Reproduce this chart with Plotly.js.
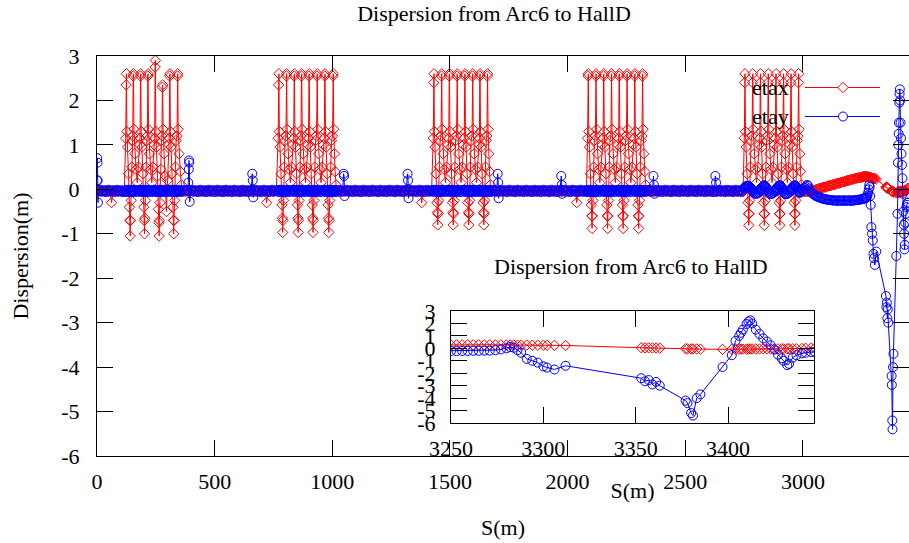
<!DOCTYPE html>
<html>
<head>
<meta charset="utf-8">
<script src="https://cdn.plot.ly/plotly-3.0.1.min.js"></script>
<style>html,body{margin:0;padding:0;background:#fff;}#chart{width:909px;height:543px;}</style>
</head>
<body>
<div id="chart"></div>
<script>
// ---- data ----
const sStart    = [0,1,2,3,4,8,14,20,26,32,38,44,50,56,62,68,74,80,86,92,98,104,110,116];
const etaxStart = [0.0,-0.02,0.0,-0.02,-0.04,-0.04,-0.04,-0.04,-0.04,-0.04,-0.04,-0.04,-0.04,-0.04,-0.3,-0.04,-0.04,-0.04,-0.04,-0.04,-0.04,-0.04,-0.04,-0.04];
const etayStart = [0.2,0.7,0.6,0.2,-0.3,-0.03,-0.01,-0.05,-0.04,-0.02,-0.06,-0.03,-0.01,-0.05,-0.04,-0.02,-0.06,-0.03,-0.01,-0.05,-0.04,-0.02,-0.06,-0.03];

const sArc1 = [122,124,125,127,130,134,138,140,141,142,145,148,151,
  152,154,155,157,161,166,171,176,181,
  183,185,186,188,191,195,199,201,202,203,206,209,212,
  214,216,217,219,223,228,233,238,243,
  245,247,248,250,253,257,261,263,264,265,268,271,274,
  276,278,279,281,285,290,295,300,305,
  307,309,310,312,315,319,323,325,326,327,330,333,336,
  340,342,343,345,349,354,359,364];
const etaxArc1 = [1.15,2.35,2.6,1.3,0.95,0.35,-0.4,-0.7,-1.05,-0.7,-0.25,0.5,1.1,
  1.2,2.55,2.6,1.35,0.8,0.45,0.15,0.5,1.0,
  1.15,2.55,2.6,1.3,0.95,0.35,-0.4,-0.7,-1.0,-0.65,-0.25,0.5,1.1,
  1.2,2.55,2.6,1.35,0.8,0.45,0.15,0.5,1.0,
  1.15,2.75,2.9,1.3,0.95,0.3,-0.45,-0.75,-1.05,-0.7,-0.3,0.45,1.1,
  1.2,2.3,2.35,1.35,0.8,0.3,-0.5,0.2,1.0,
  1.15,2.55,2.6,1.3,0.95,0.35,-0.4,-0.7,-1.0,-0.7,-0.25,0.5,1.1,
  1.2,2.55,2.6,1.35,0.8,0.4,0.1,-0.04];
const etayArc1 = [-0.03,-0.01,-0.05,-0.06,-0.02,-0.01,-0.04,-0.06,-0.03,-0.01,-0.05,-0.06,-0.02,
  -0.01,-0.04,-0.06,-0.03,-0.01,-0.05,-0.06,-0.02,-0.01,
  -0.03,-0.01,-0.05,-0.06,-0.02,-0.01,-0.04,-0.06,-0.03,-0.01,-0.05,-0.06,-0.02,
  -0.01,-0.04,-0.06,-0.03,-0.01,-0.05,-0.06,-0.02,-0.01,
  -0.03,-0.01,-0.05,-0.06,-0.02,-0.01,-0.04,-0.06,-0.03,-0.01,-0.05,-0.06,-0.02,
  -0.01,-0.04,-0.06,-0.03,-0.01,-0.05,-0.06,-0.02,-0.01,
  -0.03,-0.01,-0.05,-0.06,-0.02,-0.01,-0.04,-0.06,-0.03,-0.01,-0.05,-0.06,-0.02,
  -0.03,-0.05,-0.06,-0.02,-0.01,-0.04,-0.06,-0.02];

const sStr1 = [370,376,382,386,388,390,391,392,394,
  398,404,410,416,422,428,434,440,446,452,458,464,470,476,482,488,494,500,506,512,
  518,524,530,536,542,548,554,560,566,572,578,584,590,596,602,608,614,620,626,632,638,644,650,656,
  660,662,664,668,674,680,686,692,698,704,710,716,721,726,732,738,744,750,756,762];
const etaxStr1 = [-0.04,-0.04,-0.04,-0.04,-0.04,-0.04,-0.04,-0.04,-0.04,
  -0.04,-0.04,-0.04,-0.04,-0.04,-0.04,-0.04,-0.04,-0.04,-0.04,-0.04,-0.04,-0.04,-0.04,-0.04,-0.04,-0.04,-0.04,-0.04,-0.04,
  -0.04,-0.04,-0.04,-0.04,-0.04,-0.04,-0.04,-0.04,-0.04,-0.04,-0.04,-0.04,-0.04,-0.04,-0.04,-0.04,-0.04,-0.04,-0.04,-0.04,-0.04,-0.04,-0.04,-0.04,
  -0.04,-0.04,-0.04,-0.04,-0.04,-0.04,-0.04,-0.04,-0.04,-0.04,-0.04,-0.04,-0.3,-0.04,-0.04,-0.04,-0.04,-0.04,-0.04,-0.04];
const etayStr1 = [-0.03,-0.02,-0.03,-0.02,0.15,0.45,0.65,0.6,-0.28,
  -0.03,-0.01,-0.05,-0.04,-0.02,-0.06,-0.03,-0.01,-0.05,-0.04,-0.02,-0.06,-0.03,-0.01,-0.05,-0.04,-0.02,-0.06,-0.03,-0.01,
  -0.05,-0.04,-0.02,-0.06,-0.03,-0.01,-0.05,-0.04,-0.02,-0.06,-0.03,-0.01,-0.05,-0.04,-0.02,-0.06,-0.03,-0.01,-0.05,-0.04,-0.02,-0.06,-0.03,-0.01,
  0.35,0.2,-0.18,-0.03,-0.01,-0.05,-0.04,-0.02,-0.06,-0.03,-0.01,-0.05,-0.04,-0.02,-0.06,-0.03,-0.01,-0.05,-0.04,-0.02];

const sArc2 = [770,772,773,775,778,782,786,788,789,790,793,796,799,
  803,805,806,808,812,817,822,827,832,
  836,838,839,841,844,848,852,854,855,856,859,862,865,
  867,869,870,872,876,881,886,891,896,
  899,901,902,904,907,911,915,917,918,919,922,925,929,
  933,935,936,938,942,947,952,957,962,
  966,968,969,971,974,978,982,984,985,986,989,993,997,
  1001,1003,1004,1006,1009,1012,1016,1020];
const etaxArc2 = [1.15,2.35,2.6,1.3,0.95,0.35,-0.35,-0.65,-0.97,-0.7,-0.25,0.5,1.1,
  1.2,2.55,2.6,1.35,0.8,0.45,0.15,0.5,1.0,
  1.15,2.55,2.6,1.3,0.95,0.35,-0.35,-0.65,-0.97,-0.7,-0.25,0.5,1.1,
  1.2,2.55,2.6,1.35,0.8,0.45,0.15,0.5,1.0,
  1.15,2.55,2.6,1.3,0.95,0.35,-0.35,-0.65,-0.97,-0.7,-0.25,0.5,1.1,
  1.2,2.55,2.6,1.35,0.8,0.45,0.15,0.5,1.0,
  1.15,2.55,2.6,1.3,0.95,0.35,-0.35,-0.65,-0.97,-0.7,-0.25,0.5,1.1,
  1.2,2.55,2.6,1.35,0.8,0.4,0.1,-0.04];
const etayArc2 = etayArc1.slice();

const sStr2 = [1026,1032,1038,1044,1048,1050,1052,
  1056,1062,1068,1074,1080,1086,1092,1098,1104,1110,1116,1122,1128,1134,1140,1146,1152,1158,1164,1170,
  1176,1182,1188,1194,1200,1206,1212,1218,1224,1230,1236,1242,1248,1254,1260,1266,1272,1278,1284,1290,1296,1302,1308,1314,
  1320,1322,1324,1328,1334,1340,1346,1352,1358,1364,1370,1376,1380,1386,1392,1398,1404,1410,1416,1422];
const etaxStr2 = [-0.04,-0.04,-0.04,-0.04,-0.04,-0.04,-0.04,
  -0.04,-0.04,-0.04,-0.04,-0.04,-0.04,-0.04,-0.04,-0.04,-0.04,-0.04,-0.04,-0.04,-0.04,-0.04,-0.04,-0.04,-0.04,-0.04,-0.04,
  -0.04,-0.04,-0.04,-0.04,-0.04,-0.04,-0.04,-0.04,-0.04,-0.04,-0.04,-0.04,-0.04,-0.04,-0.04,-0.04,-0.04,-0.04,-0.04,-0.04,-0.04,-0.04,-0.04,-0.04,
  -0.04,-0.04,-0.04,-0.04,-0.04,-0.04,-0.04,-0.04,-0.04,-0.04,-0.04,-0.04,-0.3,-0.04,-0.04,-0.04,-0.04,-0.04,-0.04,-0.04];
const etayStr2 = [-0.03,-0.01,-0.05,-0.04,0.35,0.3,-0.15,
  -0.03,-0.01,-0.05,-0.04,-0.02,-0.06,-0.03,-0.01,-0.05,-0.04,-0.02,-0.06,-0.03,-0.01,-0.05,-0.04,-0.02,-0.06,-0.03,-0.01,
  -0.05,-0.04,-0.02,-0.06,-0.03,-0.01,-0.05,-0.04,-0.02,-0.06,-0.03,-0.01,-0.05,-0.04,-0.02,-0.06,-0.03,-0.01,-0.05,-0.04,-0.02,-0.06,-0.03,-0.01,
  0.35,0.2,-0.2,-0.03,-0.01,-0.05,-0.04,-0.02,-0.06,-0.03,-0.01,-0.05,-0.04,-0.02,-0.06,-0.03,-0.01,-0.05,-0.04,-0.02];

const sArc3 = [1429,1431,1432,1434,1437,1441,1445,1447,1448,1449,1452,1455,1458,
  1462,1464,1465,1467,1471,1476,1481,1486,1491,
  1495,1497,1498,1500,1503,1507,1511,1513,1514,1515,1518,1521,1524,
  1528,1530,1531,1533,1537,1542,1547,1552,1557,
  1561,1563,1564,1566,1569,1573,1577,1579,1580,1581,1584,1587,1590,
  1594,1596,1597,1599,1603,1608,1613,1618,1623,
  1625,1627,1628,1630,1633,1637,1641,1643,1644,1645,1648,1651,1654,
  1657,1659,1660,1662,1665,1668,1672,1676];
const etaxArc3 = [1.15,2.4,2.6,1.3,0.95,0.35,-0.3,-0.52,-0.8,-0.55,-0.25,0.5,1.1,
  1.2,2.55,2.6,1.35,0.8,0.45,0.15,0.5,1.0,
  1.15,2.55,2.6,1.3,0.95,0.35,-0.3,-0.52,-0.8,-0.55,-0.25,0.5,1.1,
  1.2,2.55,2.6,1.35,0.8,0.45,0.15,0.5,1.0,
  1.15,2.55,2.6,1.3,0.95,0.35,-0.3,-0.52,-0.8,-0.55,-0.25,0.5,1.1,
  1.2,2.55,2.6,1.35,0.8,0.45,0.15,0.5,1.0,
  1.15,2.55,2.6,1.3,0.95,0.35,-0.3,-0.52,-0.8,-0.55,-0.25,0.5,1.1,
  1.2,2.55,2.6,1.35,0.8,0.4,0.1,-0.04];
const etayArc3 = etayArc1.slice();

const sStr3 = [1682,1688,1694,1699,1703,1705,1707,
  1711,1717,1723,1729,1735,1741,1747,1753,1759,1765,1771,1777,1783,1789,1795,1801,1807,1813,1819,1825,
  1831,1837,1843,1849,1855,1861,1867,1873,1879,1885,1891,1897,1903,1909,1915,1921,1927,1933,1939,1945,1951,1957,1963,1968,
  1973,1975,1977,1981,1987,1993,1999,2005,2011,2017,2023,2029,2034,2039,2044,2050,2056,2062,2068,2074,2080];
const etaxStr3 = [-0.04,-0.04,-0.04,-0.04,-0.04,-0.04,-0.04,
  -0.04,-0.04,-0.04,-0.04,-0.04,-0.04,-0.04,-0.04,-0.04,-0.04,-0.04,-0.04,-0.04,-0.04,-0.04,-0.04,-0.04,-0.04,-0.04,-0.04,
  -0.04,-0.04,-0.04,-0.04,-0.04,-0.04,-0.04,-0.04,-0.04,-0.04,-0.04,-0.04,-0.04,-0.04,-0.04,-0.04,-0.04,-0.04,-0.04,-0.04,-0.04,-0.04,-0.04,-0.04,
  -0.04,-0.04,-0.04,-0.04,-0.04,-0.04,-0.04,-0.04,-0.04,-0.04,-0.04,-0.04,-0.04,-0.3,-0.04,-0.04,-0.04,-0.04,-0.04,-0.04,-0.04];
const etayStr3 = [-0.03,-0.01,-0.05,-0.04,0.35,0.15,-0.2,
  -0.03,-0.01,-0.05,-0.04,-0.02,-0.06,-0.03,-0.01,-0.05,-0.04,-0.02,-0.06,-0.03,-0.01,-0.05,-0.04,-0.02,-0.06,-0.03,-0.01,
  -0.05,-0.04,-0.02,-0.06,-0.03,-0.01,-0.05,-0.04,-0.02,-0.06,-0.03,-0.01,-0.05,-0.04,-0.02,-0.06,-0.03,-0.01,-0.05,-0.04,-0.02,-0.06,-0.03,-0.01,
  0.3,0.1,-0.1,-0.03,-0.01,-0.05,-0.04,-0.02,-0.06,-0.03,-0.01,-0.05,-0.04,-0.02,-0.06,-0.03,-0.01,-0.05,-0.04,-0.02,-0.06];

const sArc4 = [2085,2087,2088,2090,2093,2097,2101,2103,2104,2105,2108,2111,2114,
  2118,2120,2121,2123,2127,2132,2137,2142,2147,
  2151,2153,2154,2156,2159,2163,2167,2169,2170,2171,2174,2177,2180,
  2184,2186,2187,2189,2193,2198,2203,2208,2213,
  2217,2219,2220,2222,2225,2229,2233,2235,2236,2237,2240,2243,2246,
  2250,2252,2253,2255,2259,2264,2269,2274,2279,
  2283,2285,2286,2288,2291,2295,2299,2301,2302,2303,2306,2309,2312,
  2316,2318,2319,2321,2324,2328,2332,2336];
const etaxArc4 = [1.15,2.55,2.6,1.3,0.95,0.35,-0.35,-0.6,-0.88,-0.6,-0.25,0.5,1.1,
  1.2,2.55,2.6,1.35,0.8,0.45,0.15,0.5,1.0,
  1.15,2.55,2.6,1.3,0.95,0.35,-0.35,-0.6,-0.88,-0.6,-0.25,0.5,1.1,
  1.2,2.55,2.6,1.35,0.8,0.45,0.15,0.5,1.0,
  1.15,2.55,2.6,1.3,0.95,0.35,-0.35,-0.6,-0.88,-0.6,-0.25,0.5,1.1,
  1.2,2.55,2.6,1.35,0.8,0.45,0.15,0.5,1.0,
  1.15,2.55,2.6,1.3,0.95,0.35,-0.35,-0.6,-0.88,-0.6,-0.25,0.5,1.1,
  1.2,2.55,2.6,1.35,0.8,0.4,0.1,-0.04];
const etayArc4 = etayArc1.slice();

const sStr4 = [2342,2348,2354,2360,2365,2367,2369,
  2373,2379,2385,2391,2397,2403,2409,2415,2421,2427,2433,2439,2445,2451,2457,2463,2469,2475,2481,2487,
  2493,2499,2505,2511,2517,2523,2529,2535,2541,2547,2553,2559,2565,2571,2577,2583,2589,2595,2601,2607,2613,2619,2624,
  2628,2631,2634,2638,2644,2650,2656,2662,2668,2674,2680,2686,2692,2698,2704,2710,2716,2722,2728,2734,2740,2746];
const etaxStr4 = [-0.04,-0.04,-0.04,-0.04,-0.04,-0.04,-0.04,
  -0.04,-0.04,-0.04,-0.04,-0.04,-0.04,-0.04,-0.04,-0.04,-0.04,-0.04,-0.04,-0.04,-0.04,-0.04,-0.04,-0.04,-0.04,-0.04,-0.04,
  -0.04,-0.04,-0.04,-0.04,-0.04,-0.04,-0.04,-0.04,-0.04,-0.04,-0.04,-0.04,-0.04,-0.04,-0.04,-0.04,-0.04,-0.04,-0.04,-0.04,-0.04,-0.04,-0.04,
  -0.04,-0.04,-0.04,-0.04,-0.04,-0.04,-0.04,-0.04,-0.04,-0.04,-0.04,-0.04,-0.04,-0.04,-0.04,-0.04,-0.04,-0.04,-0.04,-0.04,-0.04,-0.04];
const etayStr4 = [-0.03,-0.01,-0.05,-0.04,0.3,0.1,-0.1,
  -0.03,-0.01,-0.05,-0.04,-0.02,-0.06,-0.03,-0.01,-0.05,-0.04,-0.02,-0.06,-0.03,-0.01,-0.05,-0.04,-0.02,-0.06,-0.03,-0.01,
  -0.05,-0.04,-0.02,-0.06,-0.03,-0.01,-0.05,-0.04,-0.02,-0.06,-0.03,-0.01,-0.05,-0.04,-0.02,-0.06,-0.03,-0.01,-0.05,-0.04,-0.02,-0.06,-0.03,
  0.3,0.15,-0.05,-0.03,-0.01,-0.05,-0.04,-0.02,-0.06,-0.03,-0.01,-0.05,-0.04,-0.02,-0.06,-0.03,-0.01,-0.05,-0.04,-0.02,-0.06,-0.03];

const sArc5 = [2751,2753,2754,2756,2759,2763,2767,2769,2770,2771,2774,2777,2780,
  2784,2786,2787,2789,2793,2798,2803,2808,2813,
  2817,2819,2820,2822,2825,2829,2833,2835,2836,2837,2840,2843,2846,
  2850,2852,2853,2855,2859,2864,2869,2874,2879,
  2883,2885,2886,2888,2891,2895,2899,2901,2902,2903,2906,2909,2912,
  2915,2917,2918,2920,2924,2929,2934,2939,2944,
  2947,2949,2950,2952,2955,2959,2963,2965,2966,2967,2970,2973,2976,
  2979,2981,2982,2984,2987,2990,2994,2998];
const etaxArc5 = [1.15,2.4,2.6,1.3,0.95,0.35,-0.3,-0.55,-0.81,-0.55,-0.25,0.5,1.1,
  1.2,2.4,2.6,1.35,0.8,0.45,0.15,0.5,1.0,
  1.15,2.4,2.6,1.3,0.95,0.35,-0.3,-0.55,-0.81,-0.55,-0.25,0.5,1.1,
  1.2,2.4,2.6,1.35,0.8,0.45,0.15,0.5,1.0,
  1.15,2.4,2.6,1.3,0.95,0.35,-0.3,-0.55,-0.81,-0.55,-0.25,0.5,1.1,
  1.2,2.4,2.6,1.35,0.8,0.45,0.15,0.5,1.0,
  1.15,2.4,2.6,1.3,0.95,0.35,-0.3,-0.55,-0.81,-0.55,-0.25,0.5,1.1,
  1.2,2.4,2.6,1.35,0.8,0.4,0.1,-0.04];
const etayArc5 = [0.02,0.04,0.05,0.06,0.07,0.08,0.08,0.08,0.07,0.06,0.05,0.04,0.02,
  0.0,-0.02,-0.04,-0.06,-0.08,-0.1,-0.1,-0.09,-0.07,
  -0.05,-0.02,0.0,0.02,0.04,0.06,0.08,0.09,0.09,0.08,0.07,0.05,0.03,
  0.0,-0.03,-0.05,-0.08,-0.1,-0.11,-0.1,-0.08,-0.05,
  -0.05,-0.02,0.0,0.02,0.04,0.06,0.08,0.09,0.09,0.08,0.07,0.05,0.03,
  0.0,-0.03,-0.05,-0.08,-0.1,-0.11,-0.1,-0.08,-0.05,
  -0.05,-0.02,0.0,0.02,0.04,0.06,0.08,0.09,0.09,0.08,0.07,0.05,0.03,
  0.0,-0.03,-0.05,-0.07,-0.08,-0.06,-0.03,0.0];

const sEnd = [3003,3008,3013,3018,3022,3026,
  3030,3035,3040,3045,3050,3055,3060,3065,3070,3075,
  3080,3085,3090,3095,3100,3105,3110,3115,3120,3125,
  3130,3135,3140,3145,3150,3155,3160,3165,3170,3175,
  3180,3185,3190,3195,3200,3205,3210,3215,3220,3225,
  3230,3235,3240,3245,
  3250,3253,3256,3259,3262,3265,3268,3271,3274,3277,3280,3282,3284,3286,3288,3291,3294,3297,3300,3302,3306,3312,
  3353,3355,3357,3359,3361,3363,3377,3378,3380,3381,3383,3385,3397,3402,
  3404,3406,3407,3408,3410,3411,3412,3413,3415,3417,3419,3421,3423,3425,3427,3429,3430,3432,3433,3435,3437,3440,3442,3445,3447];
const etaxEnd = [-0.04,-0.05,-0.05,-0.05,-0.05,-0.05,
  -0.05,-0.05,-0.04,-0.03,-0.02,-0.01,0.0,0.01,0.02,0.02,
  0.03,0.04,0.05,0.05,0.06,0.07,0.08,0.08,0.09,0.1,
  0.11,0.11,0.12,0.13,0.14,0.14,0.15,0.16,0.17,0.17,
  0.18,0.19,0.2,0.2,0.21,0.22,0.23,0.23,0.24,0.25,
  0.25,0.26,0.26,0.27,
  0.27,0.28,0.28,0.29,0.28,0.29,0.28,0.29,0.28,0.28,0.27,0.27,0.27,0.26,0.26,0.26,0.25,0.25,0.25,0.24,0.24,0.23,
  0.05,0.04,0.04,0.03,0.03,0.02,-0.03,-0.04,-0.04,-0.05,-0.05,-0.06,-0.08,-0.08,
  -0.07,-0.07,-0.06,-0.06,-0.06,-0.05,-0.05,-0.05,-0.05,-0.05,-0.04,-0.04,-0.04,-0.04,-0.04,-0.04,-0.04,-0.03,-0.03,-0.03,-0.03,-0.02,0.0,0.02,0.02];
const etayEnd = [0.0,0.03,0.06,0.1,0.08,0.02,
  -0.03,-0.06,-0.09,-0.11,-0.13,-0.15,-0.16,-0.17,-0.18,-0.19,
  -0.2,-0.21,-0.22,-0.22,-0.23,-0.23,-0.24,-0.24,-0.24,-0.25,
  -0.25,-0.25,-0.25,-0.26,-0.25,-0.25,-0.25,-0.26,-0.25,-0.25,
  -0.25,-0.26,-0.25,-0.25,-0.25,-0.26,-0.25,-0.25,-0.25,-0.24,
  -0.24,-0.24,-0.23,-0.23,
  -0.22,-0.22,-0.21,-0.21,-0.2,-0.2,-0.19,-0.18,-0.14,-0.08,0.0,0.1,0.05,-0.15,-0.35,-0.85,-1.0,-1.15,-1.45,-1.55,-1.7,-1.4,
  -2.4,-2.65,-2.55,-2.9,-2.7,-3.0,-4.2,-4.4,-5.2,-5.4,-4.0,-3.7,-1.5,-0.55,
  0.6,1.0,1.25,1.5,1.95,2.15,2.25,2.0,1.5,1.15,0.8,0.55,0.25,-0.1,-0.5,-0.8,-1.0,-1.35,-1.25,-0.75,-0.55,-0.4,-0.35,-0.3,-0.3];

const mainTicksX = [0, 500, 1000, 1500, 2000, 2500, 3000];
const mainTicksY = [-6, -5, -4, -3, -2, -1, 0, 1, 2, 3];
const insetTicksX = [3250, 3300, 3350, 3400];

// ---- build series ----
const S    = [].concat(sStart, sArc1, sStr1, sArc2, sStr2, sArc3, sStr3, sArc4, sStr4, sArc5, sEnd);
const ETAX = [].concat(etaxStart, etaxArc1, etaxStr1, etaxArc2, etaxStr2, etaxArc3, etaxStr3, etaxArc4, etaxStr4, etaxArc5, etaxEnd);
const ETAY = [].concat(etayStart, etayArc1, etayStr1, etayArc2, etayStr2, etayArc3, etayStr3, etayArc4, etayStr4, etayArc5, etayEnd);

const RED = 'rgb(255,0,0)', BLUE = 'rgb(0,0,255)';
const FONT = 'Liberation Serif, Times New Roman, Times, serif';
const F22 = {family: FONT, size: 22, color: 'black'};

function trace(y, name, color, symbol, size, xa, ya) {
  return {x: S, y: y, name: name, type: 'scatter', mode: 'lines+markers',
    xaxis: xa, yaxis: ya, cliponaxis: true,
    line: {color: color, width: 1},
    marker: {symbol: symbol, size: size, color: color, line: {color: color, width: 1}}};
}
const data = [
  trace(ETAX, 'etax', RED, 'diamond-open', 8, 'x', 'y'),
  trace(ETAY, 'etay', BLUE, 'circle-open', 9, 'x', 'y'),
  trace(ETAX, 'etax', RED, 'diamond-open', 8, 'x2', 'y2'),
  trace(ETAY, 'etay', BLUE, 'circle-open', 9, 'x2', 'y2')
];

// plot area: x 97..909 px, y 56..456 px
const px = v => (v - 97) / 812;
const py = v => (456 - v) / 400;

const axisCommon = {ticks: 'inside', ticklen: 16, tickwidth: 1, tickcolor: 'black',
  showline: true, linecolor: 'black', linewidth: 1, mirror: 'ticks',
  showgrid: false, zeroline: false, tickfont: F22};

const layout = {
  width: 909, height: 543,
  margin: {l: 97, r: 0, t: 56, b: 87, pad: 0},
  paper_bgcolor: 'white', plot_bgcolor: 'white',
  font: F22,
  showlegend: false,
  title: {text: 'Dispersion from Arc6 to HallD', font: F22,
    xref: 'container', yref: 'container', x: 494 / 909, xanchor: 'center', y: 1 - 13 / 543, yanchor: 'middle'},
  xaxis: Object.assign({}, axisCommon, {domain: [0, 1], anchor: 'y', range: [0, 3451],
    tickmode: 'array', tickvals: mainTicksX, ticktext: mainTicksX.map(String), ticklabelstandoff: 6,
    title: {text: 'S(m)', font: F22, standoff: 26}}),
  yaxis: Object.assign({}, axisCommon, {domain: [0, 1], anchor: 'x', range: [-6, 3],
    tickmode: 'array', tickvals: mainTicksY, ticktext: mainTicksY.map(String), ticklabelstandoff: 12,
    title: {text: 'Dispersion(m)', font: F22, standoff: 26}}),
  xaxis2: Object.assign({}, axisCommon, {domain: [px(451), px(814)], anchor: 'y2', range: [3250, 3446.5],
    tickmode: 'array', tickvals: insetTicksX, ticktext: insetTicksX.map(String), ticklabelstandoff: 6,
    title: {text: 'S(m)', font: F22, standoff: 22}}),
  yaxis2: Object.assign({}, axisCommon, {domain: [py(423), py(311)], anchor: 'x2', range: [-6, 3],
    tickmode: 'array', tickvals: mainTicksY, ticktext: mainTicksY.map(String), ticklabelstandoff: 10}),
  annotations: [
    {text: 'Dispersion from Arc6 to HallD', xref: 'paper', yref: 'paper', x: px(631), y: py(266),
      xanchor: 'center', yanchor: 'middle', showarrow: false, font: F22},
    {text: 'etax', xref: 'paper', yref: 'paper', x: px(791), y: py(87), xanchor: 'right', yanchor: 'middle',
      showarrow: false, font: F22},
    {text: 'etay', xref: 'paper', yref: 'paper', x: px(791), y: py(116), xanchor: 'right', yanchor: 'middle',
      showarrow: false, font: F22}
  ],
  shapes: [
    {type: 'line', xref: 'paper', yref: 'paper', x0: px(805), x1: px(880), y0: py(87.5), y1: py(87.5), line: {color: RED, width: 1}},
    {type: 'path', xref: 'paper', yref: 'paper', xsizemode: 'pixel', ysizemode: 'pixel', xanchor: px(843), yanchor: py(87.5),
      path: 'M -5.2 0 L 0 5.2 L 5.2 0 L 0 -5.2 Z', line: {color: RED, width: 1}, fillcolor: 'white'},
    {type: 'line', xref: 'paper', yref: 'paper', x0: px(805), x1: px(880), y0: py(116.5), y1: py(116.5), line: {color: BLUE, width: 1}},
    {type: 'circle', xref: 'paper', yref: 'paper', xsizemode: 'pixel', ysizemode: 'pixel', xanchor: px(843), yanchor: py(116.5),
      x0: -4.5, x1: 4.5, y0: -4.5, y1: 4.5, line: {color: BLUE, width: 1}, fillcolor: 'white'}
  ]
};

Plotly.newPlot('chart', data, layout, {displayModeBar: false, staticPlot: true});
</script>
</body>
</html>
